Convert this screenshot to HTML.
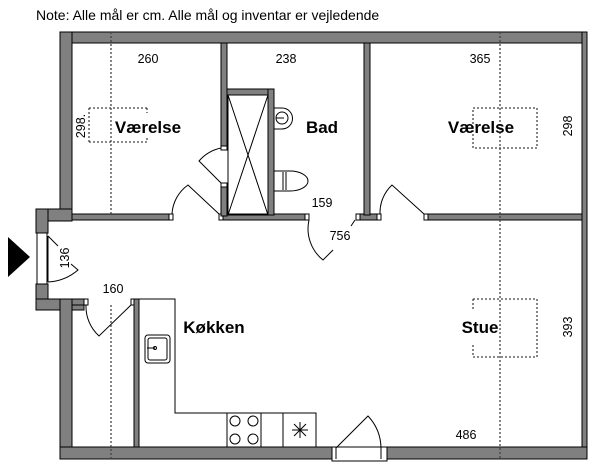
<!DOCTYPE html>
<html><head><meta charset="utf-8"><style>
html,body{margin:0;padding:0;background:#fff}
svg{display:block}
text{font-family:"Liberation Sans",sans-serif;fill:#000}
.w{fill:#808080;stroke:#000;stroke-width:1}
.l{fill:none;stroke:#000;stroke-width:1}
.d{fill:none;stroke:#444;stroke-width:1.3;stroke-dasharray:2 2}
.b{font-weight:bold;font-size:17px}
.n{font-size:12.5px}
</style></head><body>
<svg width="600" height="468" viewBox="0 0 600 468" xmlns="http://www.w3.org/2000/svg">
<text x="36" y="20" font-size="14">Note: Alle mål er cm. Alle mål og inventar er vejledende</text>
<rect class="w" x="60" y="32" width="527" height="11"/>
<rect class="w" x="582" y="32" width="5" height="427"/>
<rect class="w" x="60" y="32" width="12" height="188"/>
<rect class="w" x="36" y="209" width="36" height="12"/>
<rect class="w" x="36" y="209" width="12" height="24"/>
<rect class="w" x="36" y="284" width="12" height="26"/>
<rect class="w" x="36" y="299" width="48" height="11"/>
<rect class="w" x="60" y="299" width="12" height="160"/>
<rect class="w" x="60" y="447" width="273" height="12"/>
<rect class="w" x="386" y="447" width="201" height="12"/>
<rect x="37" y="233" width="10" height="51" fill="#fff" stroke="#000"/>
<line class="l" x1="48" y1="236" x2="48" y2="282"/>
<path class="l" d="M48 282 A50 50 0 0 0 78 270 L71 264"/>
<line class="l" x1="48" y1="236" x2="58" y2="246"/>
<polygon points="8,237 30,257 8,277" fill="#000"/>
<rect x="332" y="447" width="55" height="14" fill="#fff" stroke="#000"/>
<line class="l" x1="336" y1="447" x2="336" y2="459"/>
<line class="l" x1="381" y1="447" x2="381" y2="459"/>
<path class="l" d="M336 448 L368 416 A48 48 0 0 1 381 448"/>
<rect class="w" x="72" y="214" width="100" height="6"/>
<rect class="w" x="219" y="214" width="89" height="6"/>
<rect class="w" x="356" y="214" width="24" height="6"/>
<rect class="w" x="425" y="214" width="157" height="6"/>
<rect x="169" y="214" width="4" height="6" fill="#fff" stroke="#000"/>
<rect x="219" y="214" width="4" height="6" fill="#fff" stroke="#000"/>
<rect x="305" y="214" width="4" height="6" fill="#fff" stroke="#000"/>
<rect x="356" y="214" width="4" height="6" fill="#fff" stroke="#000"/>
<rect x="377" y="214" width="4" height="6" fill="#fff" stroke="#000"/>
<rect x="424" y="214" width="4" height="6" fill="#fff" stroke="#000"/>
<rect class="w" x="221" y="43" width="6" height="106"/>
<rect class="w" x="221" y="184" width="6" height="32"/>
<rect x="221" y="146" width="6" height="4" fill="#fff" stroke="#000"/>
<rect x="221" y="183" width="6" height="4" fill="#fff" stroke="#000"/>
<rect class="w" x="364" y="43" width="6" height="172"/>
<rect class="w" x="227" y="89" width="47" height="6"/>
<rect class="w" x="268" y="89" width="6" height="126"/>
<rect class="l" x="228" y="95" width="40" height="120"/>
<line class="l" x1="228" y1="95" x2="268" y2="215"/>
<line class="l" x1="268" y1="95" x2="228" y2="215"/>
<path class="l" d="M274 108 L282 108 A10 10 0 0 1 282 129 L274 129"/>
<circle class="l" cx="282" cy="118" r="6"/>
<line class="l" x1="276" y1="118" x2="284" y2="118"/>
<path class="l" d="M274 171 L290 171 A18 10 0 0 1 290 191 L274 191 Z"/>
<line class="l" x1="283" y1="172" x2="283" y2="190"/>
<line class="l" x1="286" y1="172" x2="286" y2="190"/>
<path class="l" d="M172 214 A38 38 0 0 1 188 185 L219 214"/>
<path class="l" d="M221 148 A40 40 0 0 0 199 161 L221 183"/>
<path class="l" d="M309 220 A40 40 0 0 0 323 260 L333 250"/>
<line class="l" x1="355" y1="220" x2="351" y2="226"/>
<path class="l" d="M380 214 A38 38 0 0 1 392 185 L424 214"/>
<rect class="w" x="72" y="299" width="12" height="6"/>
<rect class="w" x="131" y="299" width="8" height="6"/>
<rect x="84" y="299" width="4" height="6" fill="#fff" stroke="#000"/>
<rect x="131" y="299" width="4" height="6" fill="#fff" stroke="#000"/>
<path class="l" d="M86 305 A40 40 0 0 0 99 336 L131 305"/>
<rect class="w" x="134" y="299" width="5" height="148"/>
<path class="l" d="M139 299 L175 299 L175 413 L316 413 L316 447"/>
<line class="l" x1="227" y1="413" x2="227" y2="447"/>
<line class="l" x1="261" y1="413" x2="261" y2="447"/>
<line class="l" x1="283" y1="413" x2="283" y2="447"/>
<circle class="l" cx="235" cy="421" r="5"/><circle class="l" cx="253" cy="421" r="5"/>
<circle class="l" cx="235" cy="439" r="5"/><circle class="l" cx="253" cy="439" r="5"/>
<path class="l" d="M300 422 L300 438 M292 430 L308 430 M294 424 L306 436 M306 424 L294 436"/>
<rect class="l" x="145" y="335" width="25" height="28" rx="3"/>
<rect class="l" x="148" y="338" width="19" height="22" rx="2"/>
<line class="l" x1="147" y1="348" x2="155" y2="348"/><circle class="l" cx="155" cy="348" r="1.5"/>
<line class="d" x1="111" y1="32" x2="111" y2="214"/>
<line class="d" x1="111" y1="305" x2="111" y2="459"/>
<line class="d" x1="500" y1="32" x2="500" y2="459"/>
<path class="d" d="M89 108 H147 M89 142 H147 M89 108 V142 M147 108 V113 M147 138 V142"/>
<rect class="d" x="473" y="108" width="64" height="40"/>
<path class="d" d="M473 299 H537 V357 H473 V345 M473 299 V311"/>
<text class="b" x="148" y="133" text-anchor="middle">Værelse</text>
<text class="b" x="322" y="133" text-anchor="middle">Bad</text>
<text class="b" x="481" y="133" text-anchor="middle">Værelse</text>
<text class="b" x="214" y="333" text-anchor="middle">Køkken</text>
<text class="b" x="480" y="333" text-anchor="middle">Stue</text>
<text class="n" x="148" y="63" text-anchor="middle">260</text>
<text class="n" x="286" y="63" text-anchor="middle">238</text>
<text class="n" x="480" y="63" text-anchor="middle">365</text>
<text class="n" x="322" y="207" text-anchor="middle">159</text>
<text class="n" x="340" y="240" text-anchor="middle">756</text>
<text class="n" x="113" y="293" text-anchor="middle">160</text>
<text class="n" x="466" y="439" text-anchor="middle">486</text>
<text class="n" transform="translate(85,126) rotate(-90)" text-anchor="middle">298.</text>
<text class="n" transform="translate(572,126) rotate(-90)" text-anchor="middle">298</text>
<text class="n" transform="translate(572,327) rotate(-90)" text-anchor="middle">393</text>
<text class="n" transform="translate(69,258) rotate(-90)" text-anchor="middle">136</text>
</svg>
</body></html>
